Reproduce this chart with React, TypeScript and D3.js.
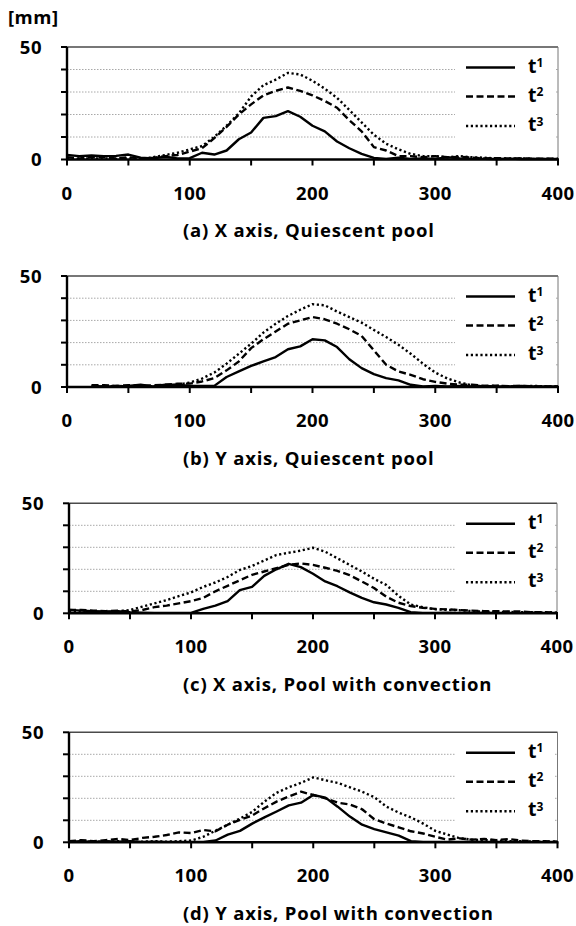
import React, { useEffect } from 'react';
import * as d3 from 'd3';

const W = 576;
const H = 926;
const FONT = "'Open Sans', 'DejaVu Sans', sans-serif";

// x samples (distance) shared by all series
const xs = d3.range(0, 401, 10);

// (a) X axis, Quiescent pool
const a1 = [2, 1.5, 1.8, 1.5, 1.6, 2.2, 0.8, 0.5, 1.2, 0.5, 0.6, 3, 2.2, 4, 9, 12, 18.5, 19.3, 21.5, 19, 15, 12.5, 8, 5, 2.5, 0.7, 0.3, 0.8, 0.3, 0.5, 0.3, 1, 0.5, 0.3, 0.3, 0.2, 0.4, 0.2, 0.3, 0.2, 0.2];
const a2 = [1, 0.5, 1, 1, 0.5, 1, 0.5, 0.7, 1.5, 2, 3.5, 5, 9.5, 14.5, 20, 24.5, 28.5, 30.5, 32, 30.5, 28.5, 26, 23, 17.5, 12.5, 5.5, 4, 1.5, 1.5, 1, 1.5, 1, 1.2, 0.8, 0.5, 0.6, 0.4, 0.5, 0.3, 0.4, 0.3];
const a3 = [0.5, 0.3, 0.5, 0.5, 0.3, 0.5, 0.3, 1, 2, 3, 4.5, 6, 10, 15, 20.5, 28, 33, 35.5, 38.5, 37.8, 35, 31.5, 27.4, 22, 16.5, 11, 7, 4.5, 2.5, 1.5, 1.5, 1, 1.5, 1, 0.8, 0.5, 0.4, 0.5, 0.3, 0.3, 0.3];

// (b) Y axis, Quiescent pool
const b1 = [null, null, 0.5, 0.3, 0.3, 0.5, 1, 0.3, 1, 1, 0.5, 0.5, 0.5, 4.5, 7, 9.5, 11.5, 13.5, 17, 18.3, 21.5, 21, 18, 12.5, 8.5, 5.8, 4, 3, 1, 0.3, 0.5, 0.3, 0.5, 0.3, 0.5, 0.3, 0.3, 0.5, 0.3, 0.2, 0.3];
const b2 = [null, null, 0.8, 0.8, 0.5, 0.8, 0.5, 0.8, 1, 1.5, 1.5, 2.5, 4, 7.5, 11.5, 17.5, 21.5, 25, 28.5, 30, 31.5, 30.5, 28.5, 26, 23, 16.5, 10, 7, 5.5, 3.5, 2.3, 1.5, 1, 1, 0.5, 0.6, 0.4, 0.5, 0.3, 0.3, 0.3];
const b3 = [null, null, 0.3, 0.3, 0.5, 0.3, 0.5, 0.3, 0.5, 1, 2, 3.8, 6.5, 10.5, 15, 19.5, 24.5, 28.5, 32, 34.8, 37.3, 36.8, 34, 31.5, 29, 25.7, 22.5, 19, 15, 10.5, 6.5, 3.8, 2, 0.8, 0.3, 0.5, 0.3, 0.3, 0.5, 0.3, 0.3];

// (c) X axis, Pool with convection
const c1 = [1.5, 1.2, 1, 0.8, 1, 0.5, 0.3, 0.2, 0.2, 0.2, 0.2, 2, 3.5, 5.5, 10.5, 12, 17, 20, 22.5, 21, 18, 14.5, 12.3, 9.5, 7, 5, 4, 2.5, 0.5, 0.2, 0.2, 0.3, 0.2, 0.2, 0.3, 0.2, 0.2, 0.2, 0.3, 0.2, 0.2];
const c2 = [1.5, 1.5, 1.2, 1, 1.2, 0.8, 1.5, 2.8, 3.5, 4.5, 5.5, 7, 10, 12.5, 15, 17.5, 19, 20.5, 22, 22.7, 22, 20.7, 19.3, 17.3, 14.5, 11.5, 7.6, 4.8, 3.3, 2.5, 2, 1.8, 1.5, 1.2, 1, 1, 0.8, 0.8, 0.5, 0.5, 0.3];
const c3 = [0.5, 0.5, 0.3, 0.5, 0.8, 1.5, 3, 4.5, 6, 7.8, 9.5, 12, 14, 16.5, 19.7, 21.5, 24, 26.5, 27.5, 28.5, 29.8, 28, 25, 22, 19, 15.7, 12.9, 8, 4, 2.8, 1.8, 1.6, 1.4, 1, 0.8, 0.7, 0.6, 0.5, 0.5, 0.4, 0.3];

// (d) Y axis, Pool with convection
const d1 = [0.3, 0.5, 0.2, 0.5, 0.3, 0.5, 0.2, 0.3, 0.2, 0.2, 0.2, 0.2, 0.8, 3.5, 5.2, 8.5, 11.3, 14, 16.8, 18, 21.5, 20.3, 16.2, 11.7, 8, 6, 4.5, 3, 0.5, 0.2, 0.2, 0.2, 0.2, 0.3, 0.2, 0.2, 0.2, 0.2, 0.2, 0.2, 0.2];
const d2 = [0.5, 1, 0.5, 1, 1.5, 1, 2, 2.5, 3.3, 4.5, 4.2, 5.6, 5, 8, 10.2, 12.2, 15.5, 18.5, 20.8, 23, 21.5, 20, 18, 17.2, 15, 10.5, 8.5, 6.8, 5, 4, 2.5, 1.2, 1.8, 1.2, 1.5, 1, 1.5, 0.8, 0.5, 0.5, 0.3];
const d3v = [0.3, 0.5, 0.3, 0.3, 0.5, 0.3, 0.3, 0.5, 0.3, 0.5, 0.8, 2.5, 5.3, 8, 10.8, 13.8, 18.5, 22.5, 25, 27, 29.5, 28.2, 27, 25, 23, 20.5, 16.2, 13.5, 11.3, 8.5, 5.2, 3.5, 1.8, 1.2, 1, 0.8, 0.5, 0.5, 0.3, 0.3, 0.3];

const captions = [
  '(a) X axis, Quiescent pool',
  '(b) Y axis, Quiescent pool',
  '(c) X axis, Pool with convection',
  '(d) Y axis, Pool with convection',
];
const legendNames = ['1', '2', '3'];
const xTicks = [0, 100, 200, 300, 400];
const yTicks = [0, 50];

const seriesByPanel = [[a1, a2, a3], [b1, b2, b3], [c1, c2, c3], [d1, d2, d3v]];

// layout of each panel (pixels)
const layout = [
  { top: 47, zero: 159.5, left: 67, right: 558 },
  { top: 276, zero: 387, left: 67, right: 558 },
  { top: 503.3, zero: 613.3, left: 69, right: 557 },
  { top: 732.3, zero: 842.3, left: 69, right: 557.5 },
];

const styles = [
  { dash: undefined, w: 2.4 },
  { dash: '7,3.5', w: 2.4 },
  { dash: '2.2,2.6', w: 2.4 },
];

function Panel({ idx }: { idx: number }) {
  const p = layout[idx];
  const x = d3.scaleLinear().domain([0, 400]).range([p.left, p.right]);
  const y = d3.scaleLinear().domain([0, 50]).range([p.zero, p.top]);
  const line = d3
    .line<number | null>()
    .defined((d) => d != null)
    .x((_, i) => x(xs[i]))
    .y((d) => y(d as number));

  const legendRows = [20.5, 49.5, 79];

  return (
    <g>
      {/* grid lines */}
      {[10, 20, 30, 40].map((v) => (
        <line key={v} x1={p.left} x2={p.right} y1={y(v)} y2={y(v)}
          stroke="#a8a8a8" strokeWidth={1} strokeDasharray="1.5,1.5" />
      ))}
      {/* top & right frame */}
      <line x1={p.left} x2={p.right} y1={y(50)} y2={y(50)} stroke="#4a4a4a" strokeWidth={1.6} />
      <line x1={p.right} x2={p.right} y1={y(50)} y2={y(0)} stroke="#777" strokeWidth={1} />

      {/* curves */}
      {seriesByPanel[idx].map((s, i) => (
        <path key={i} d={line(s as (number | null)[]) || ''} fill="none" stroke="#000"
          strokeWidth={styles[i].w} strokeDasharray={styles[i].dash} strokeLinejoin="round" />
      ))}

      {/* legend */}
      <rect x={455} y={p.top + 6} width={100} height={88} fill="#fff" />
      {legendNames.map((n, i) => (
        <g key={n}>
          <line x1={466} x2={515} y1={p.top + legendRows[i]} y2={p.top + legendRows[i]}
            stroke="#000" strokeWidth={2.6} strokeDasharray={styles[i].dash} />
          <text x={528} y={p.top + legendRows[i] + 5} fontFamily={FONT} fontWeight="bold" fontSize={19.5}>
            t<tspan dy={-5.5} fontSize={12}>{n}</tspan>
          </text>
        </g>
      ))}

      {/* axes */}
      <line x1={p.left} x2={p.left} y1={y(50)} y2={y(0) + 1} stroke="#000" strokeWidth={2.4} />
      <line x1={p.left - 1} x2={p.right + 1} y1={y(0)} y2={y(0)} stroke="#000" strokeWidth={2.6} />
      {d3.range(0, 51, 10).map((v) => (
        <line key={'yt' + v} x1={p.left - 6} x2={p.left} y1={y(v)} y2={y(v)} stroke="#000" strokeWidth={2} />
      ))}
      {d3.range(0, 401, 50).map((v) => (
        <line key={'xt' + v} x1={x(v)} x2={x(v)} y1={y(0)} y2={y(0) + 6} stroke="#000" strokeWidth={2} />
      ))}
      {yTicks.map((v) => (
        <text key={'yl' + v} x={p.left - 25} y={y(v) + 6.8} textAnchor="end"
          fontFamily={FONT} fontWeight="bold" fontSize={18.5} letterSpacing={0.5}>{v}</text>
      ))}
      {xTicks.map((v) => (
        <text key={'xl' + v} x={x(v)} y={y(0) + 40} textAnchor="middle"
          fontFamily={FONT} fontWeight="bold" fontSize={18.5} letterSpacing={0.5}>{v}</text>
      ))}
      <text x={183} y={y(0) + 77.5} fontFamily={FONT} fontWeight="bold" fontSize={18.5} letterSpacing={0.8}>
        {captions[idx]}
      </text>
    </g>
  );
}

export default function App() {
  useEffect(() => {
    document.body.style.margin = '0';
  }, []);
  return (
    <svg width={W} height={H} viewBox={`0 0 ${W} ${H}`} style={{ display: 'block', background: '#fff' }}>
      <text x={8} y={24} fontFamily={FONT} fontWeight="bold" fontSize={18.5} letterSpacing={0.5}>[mm]</text>
      {layout.map((_, i) => (
        <Panel key={i} idx={i} />
      ))}
    </svg>
  );
}
